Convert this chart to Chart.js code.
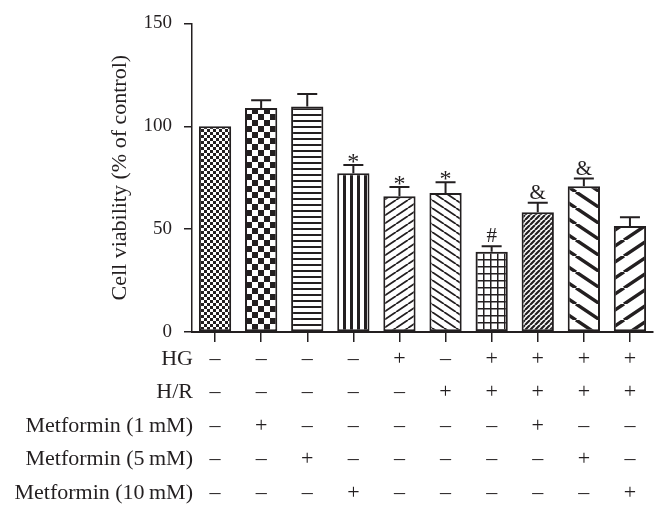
<!DOCTYPE html>
<html>
<head>
<meta charset="utf-8">
<script src="https://cdn.jsdelivr.net/npm/chart.js@4/dist/chart.umd.min.js"></script>
<style>
  html, body { margin: 0; padding: 0; background: #fff; }
</style>
</head>
<body>
<canvas id="chart" width="668" height="517"></canvas>
<script>
// groups, left to right
const groups = ['Control', 'Met 1', 'Met 5', 'Met 10', 'HG', 'H/R', 'HG+H/R', 'HG+H/R+Met 1', 'HG+H/R+Met 5', 'HG+H/R+Met 10']
const viability = [100, 108.9, 109.6, 77.2, 66, 67.6, 39, 58.2, 70.9, 51.5]
const sem = [0, 3.7, 6.1, 4, 4.5, 5.2, 2.7, 4.6, 3.7, 4.3]
const marks = ['', '', '', '*', '*', '*', '#', '&', '&', '']
const yTicks = [0, 50, 100, 150]

// treatment table under the axis (1 = +, 0 = –)
const rowNames = ['HG', 'H/R', 'Metformin (1\u2009mM)', 'Metformin (5\u2009mM)', 'Metformin (10\u2009mM)']
const hg    = [0, 0, 0, 0, 1, 0, 1, 1, 1, 1]
const hr    = [0, 0, 0, 0, 0, 1, 1, 1, 1, 1]
const met1  = [0, 1, 0, 0, 0, 0, 0, 1, 0, 0]
const met5  = [0, 0, 1, 0, 0, 0, 0, 0, 1, 0]
const met10 = [0, 0, 0, 1, 0, 0, 0, 0, 0, 1]
const rows = [hg, hr, met1, met5, met10]

const ink = '#231f20'
const serif = 'Liberation Serif'

function tile(w, h, draw) {
    const c = document.createElement('canvas')
    c.width = w; c.height = h
    const g = c.getContext('2d')
    g.fillStyle = '#fff'; g.fillRect(0, 0, w, h)
    g.fillStyle = ink; g.strokeStyle = ink
    draw(g, w, h)
    return c.getContext('2d').createPattern(c, 'repeat')
}

function slash(w, h, lw, up) {
    return tile(w, h, (g) => {
        g.lineWidth = lw
        g.beginPath()
        for (let k = -1; k <= 1; k++) {
            if (up) { g.moveTo(k * w, h); g.lineTo(k * w + w, 0) }
            else    { g.moveTo(k * w, 0); g.lineTo(k * w + w, h) }
        }
        g.stroke()
    })
}

const patterns = [
    tile(6, 6, (g) => { g.fillRect(0, 0, 3, 3); g.fillRect(3, 3, 3, 3) }),
    tile(12, 12, (g) => { g.fillRect(0, 0, 6, 6); g.fillRect(6, 6, 6, 6) }),
    tile(6, 6, (g) => { g.fillRect(0, 0, 6, 2) }),
    tile(7, 6, (g) => { g.fillRect(0, 0, 3, 6) }),
    slash(12, 8, 1.8, true),
    slash(12, 8, 1.8, false),
    tile(7, 7, (g) => { g.fillRect(0, 0, 7, 1.5); g.fillRect(0, 0, 1.5, 7) }),
    slash(5, 5, 2.2, true),
    slash(24, 16, 3.5, false),
    slash(24, 16, 3.5, true)
]

const errorBars = {
    id: 'errorBars',
    afterDatasetsDraw(chart) {
        const ctx = chart.ctx
        const y = chart.scales.y
        const meta = chart.getDatasetMeta(0)
        ctx.save()
        ctx.strokeStyle = ink
        ctx.fillStyle = ink
        ctx.lineWidth = 2
        ctx.textAlign = 'center'
        ctx.textBaseline = 'alphabetic'
        meta.data.forEach((bar, i) => {
            const top = y.getPixelForValue(viability[i] + sem[i])
            if (sem[i]) {
                ctx.beginPath()
                ctx.moveTo(bar.x, bar.y)
                ctx.lineTo(bar.x, top)
                ctx.moveTo(bar.x - 10, top)
                ctx.lineTo(bar.x + 10, top)
                ctx.stroke()
            }
            if (marks[i]) {
                const star = marks[i] == '*'
                ctx.font = (star ? 24 : 21) + 'px "' + serif + '"'
                ctx.fillText(marks[i], bar.x, top + (star ? 4 : -4))
            }
        })
        ctx.restore()
    }
}

const treatmentTable = {
    id: 'treatmentTable',
    afterDraw(chart) {
        const ctx = chart.ctx
        const area = chart.chartArea
        const meta = chart.getDatasetMeta(0)
        ctx.save()
        ctx.fillStyle = ink
        ctx.font = '22px "' + serif + '"'
        ctx.textBaseline = 'middle'
        rows.forEach((row, r) => {
            const ty = area.bottom + 27 + r * 33.5
            ctx.textAlign = 'right'
            ctx.fillText(rowNames[r], area.left + 1, ty)
            ctx.textAlign = 'center'
            meta.data.forEach((bar, i) => {
                ctx.fillText(row[i] ? '+' : '\u2013', bar.x, ty)
            })
        })
        ctx.restore()
    }
}

new Chart(document.getElementById('chart'), {
    type: 'bar',
    data: {
        labels: groups,
        datasets: [{
            data: viability,
            backgroundColor: patterns,
            borderColor: ink,
            borderWidth: 2,
            borderSkipped: false,
            categoryPercentage: 1,
            barPercentage: 0.7
        }]
    },
    options: {
        responsive: false,
        animation: false,
        layout: { padding: { left: 103, right: 15, top: 22, bottom: 0 } },
        plugins: { legend: { display: false }, tooltip: { enabled: false } },
        scales: {
            x: {
                ticks: { display: false },
                grid: { offset: false, drawOnChartArea: false, drawTicks: true, tickLength: 10, color: ink, lineWidth: 1.5 },
                border: { color: ink, width: 2 },
                afterFit(s) { s.height = 185 }
            },
            y: {
                min: 0,
                max: 150,
                afterBuildTicks(s) { s.ticks = yTicks.map(v => ({ value: v })) },
                ticks: { font: { family: serif, size: 19 }, color: ink, padding: 12 },
                grid: { drawOnChartArea: false, drawTicks: true, tickLength: 8, color: ink, lineWidth: 1.5 },
                border: { color: ink, width: 1.5 },
                title: { display: true, text: 'Cell viability (% of control)', font: { family: serif, size: 22 }, color: ink },
                afterFit(s) { s.width = 89 }
            }
        }
    },
    plugins: [errorBars, treatmentTable]
})
</script>
</body>
</html>
